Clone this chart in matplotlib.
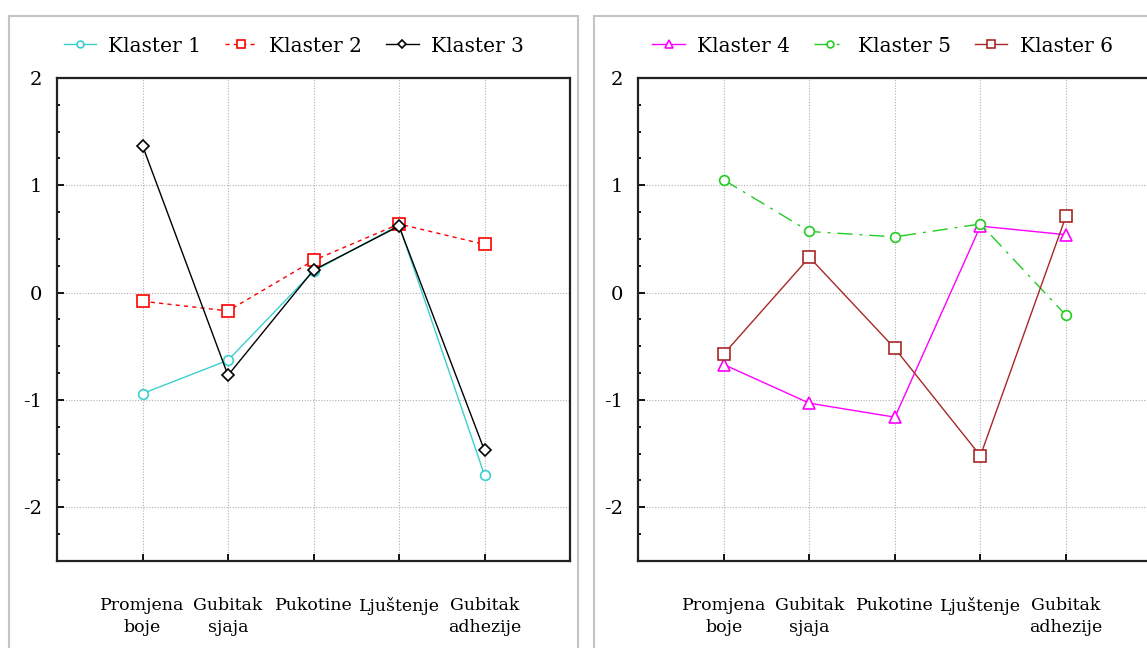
import matplotlib
matplotlib.use("Agg")
from matplotlib import pyplot as plt
from matplotlib.patches import Rectangle
from matplotlib.ticker import MultipleLocator

plt.rcParams['font.family'] = ['DejaVu Serif']

categories = ["Promjena\nboje", "Gubitak\nsjaja", "Pukotine", "Ljuštenje", "Gubitak\nadhezije"]

klaster1 = [-0.94, -0.63, 0.20, 0.63, -1.70]
klaster2 = [-0.08, -0.17, 0.30, 0.64, 0.45]
klaster3 = [1.37, -0.77, 0.21, 0.62, -1.47]
klaster4 = [-0.67, -1.03, -1.16, 0.62, 0.54]
klaster5 = [1.05, 0.57, 0.52, 0.64, -0.21]
klaster6 = [-0.57, 0.33, -0.52, -1.52, 0.71]

left_series = [
    ("Klaster 1", klaster1, '#3CCFCF', 'o', 7, '-'),
    ("Klaster 2", klaster2, '#FF0000', 's', 8, (0, (3, 3))),
    ("Klaster 3", klaster3, '#000000', 'D', 6, '-'),
]
right_series = [
    ("Klaster 4", klaster4, '#FF00FF', '^', 8, '-'),
    ("Klaster 5", klaster5, '#22CC22', 'o', 7, (0, (11, 5, 2, 5))),
    ("Klaster 6", klaster6, '#A82828', 's', 8, '-'),
]

W, H = 1147, 648
fig = plt.figure(figsize=(W / 100, H / 100), dpi=100)

# panel borders
for x0, x1 in [(9, 578), (594, 1160)]:
    fig.patches.append(Rectangle((x0 / W, -0.05), (x1 - x0) / W, 1.05 - 16 / H,
                                 transform=fig.transFigure, fill=False,
                                 edgecolor='#C4C4C4', linewidth=1.5))

ax_w = (570 - 57) / W
ax_b = 1 - 561 / H
ax_h = (561 - 78) / H
ax1 = fig.add_axes([57 / W, ax_b, ax_w, ax_h])
ax2 = fig.add_axes([638.4 / W, ax_b, ax_w, ax_h])

xpos = list(range(1, len(categories) + 1))

for ax, series, legx in [(ax1, left_series, 293.5 / W), (ax2, right_series, 882.5 / W)]:
    for name, vals, col, mk, ms, ls in series:
        ax.plot(xpos, vals, color=col, linestyle=ls, linewidth=1.0,
                marker=mk, markersize=ms, markerfacecolor='white',
                markeredgecolor=col, markeredgewidth=1.2, label=name)
    ax.set_xlim(0, 6)
    ax.set_ylim(-2.5, 2)
    ax.set_xticks(xpos)
    ax.set_xticklabels(categories, fontsize=12.5, linespacing=1.35)
    ax.set_yticks([-2, -1, 0, 1, 2])
    ax.set_yticklabels(['-2', '-1', '0', '1', '2'], fontsize=14)
    ax.yaxis.set_minor_locator(MultipleLocator(0.25))
    ax.tick_params(axis='x', direction='in', length=5, width=1.3, pad=26, top=False)
    ax.tick_params(axis='y', which='major', direction='in', length=5, width=1.3, pad=11)
    ax.tick_params(axis='y', which='minor', direction='in', length=2.5, width=1.3)
    ax.tick_params(axis='x', which='minor', bottom=False)
    ax.grid(True, color='#B0B0B0', linestyle=(0, (1, 1.5)), linewidth=0.8)
    for sp in ax.spines.values():
        sp.set_linewidth(1.6)
        sp.set_color('#222222')
    ax.legend(loc='center', bbox_to_anchor=(legx, 1 - 46 / H), bbox_transform=fig.transFigure,
              ncol=3, frameon=False, fontsize=14.5, handlelength=1.6, handletextpad=0.6,
              columnspacing=1.2, markerscale=0.7)

plt.savefig("out.png", dpi=100)
